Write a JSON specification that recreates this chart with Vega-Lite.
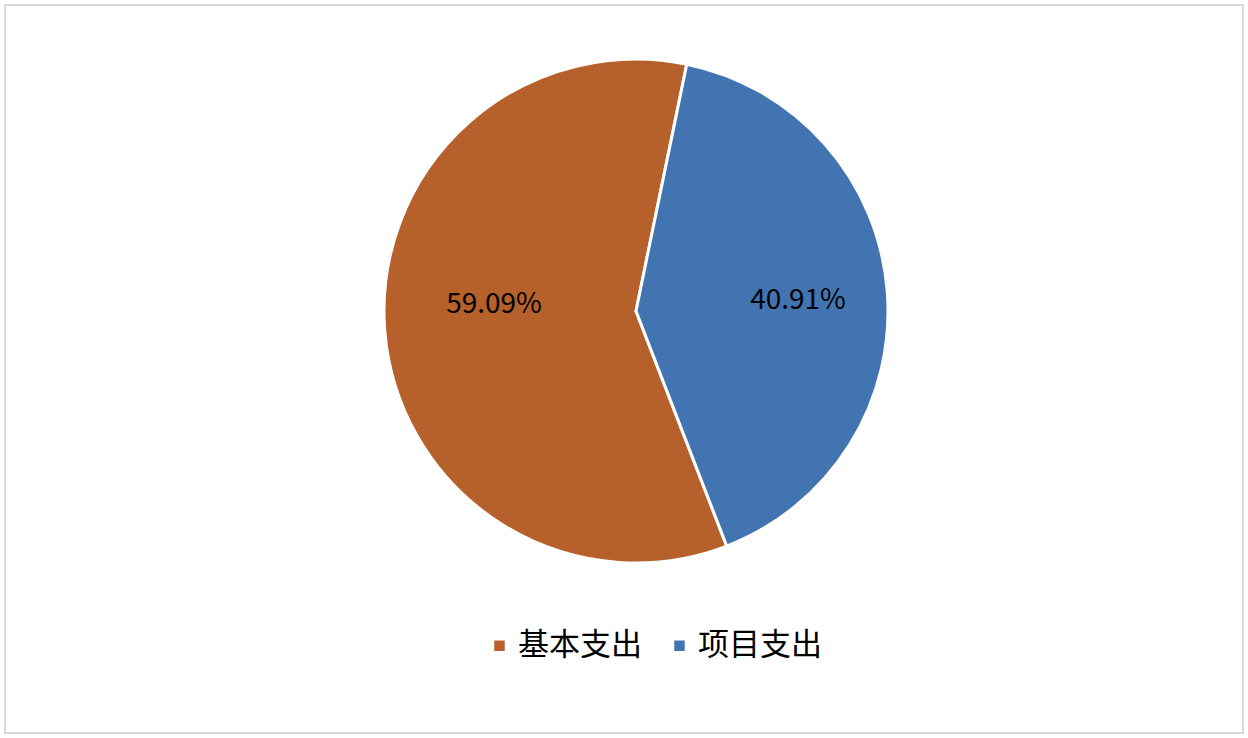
{
  "$schema": "https://vega.github.io/schema/vega-lite/v6.json",
  "width": 1238,
  "height": 728,
  "padding": 5,
  "autosize": {"type": "none"},
  "background": "white",
  "config": {"view": {"stroke": null}},
  "data": {"values": [
    {"category": "基本支出", "value": 59.09, "label": "59.09%", "order": 1},
    {"category": "项目支出", "value": 40.91, "label": "40.91%", "order": 2}
  ]},
  "layer": [
    {
      "data": {"values": [{"frame": 1}]},
      "mark": {"type": "rect", "fill": null, "stroke": "#d9d9d9", "strokeWidth": 2},
      "encoding": {
        "x": {"value": 0}, "x2": {"value": "width"},
        "y": {"value": 0}, "y2": {"value": "height"}
      }
    },
    {
      "mark": {"type": "arc", "outerRadius": 252, "stroke": "white", "strokeWidth": 3, "x": 631, "y": 306},
      "encoding": {
        "theta": {"field": "value", "type": "quantitative", "stack": true, "scale": {"range": [2.7733, 9.0565]}},
        "order": {"field": "order", "type": "quantitative"},
        "color": {
          "field": "category", "type": "nominal",
          "scale": {"domain": ["基本支出", "项目支出"], "range": ["#B6602B", "#4374B2"]},
          "legend": {
            "title": null, "orient": "none", "direction": "horizontal",
            "legendX": 479, "legendY": 625,
            "symbolType": "square", "symbolSize": 110, "symbolStrokeWidth": 0,
            "labelFont": "Noto Sans CJK SC", "labelFontSize": 31, "labelColor": "#000000",
            "labelOffset": 3, "columnPadding": 22, "labelLimit": 300
          }
        }
      }
    },
    {
      "mark": {"type": "text", "radius": 152, "thetaOffset": 0.07, "x": 631, "y": 306, "dx": 10, "dy": -8, "fontSize": 28, "font": "Noto Sans CJK SC", "color": "#000000"},
      "encoding": {
        "theta": {"field": "value", "type": "quantitative", "stack": true, "scale": {"range": [2.7733, 9.0565]}},
        "order": {"field": "order", "type": "quantitative"},
        "text": {"field": "label", "type": "nominal"}
      }
    }
  ]
}
